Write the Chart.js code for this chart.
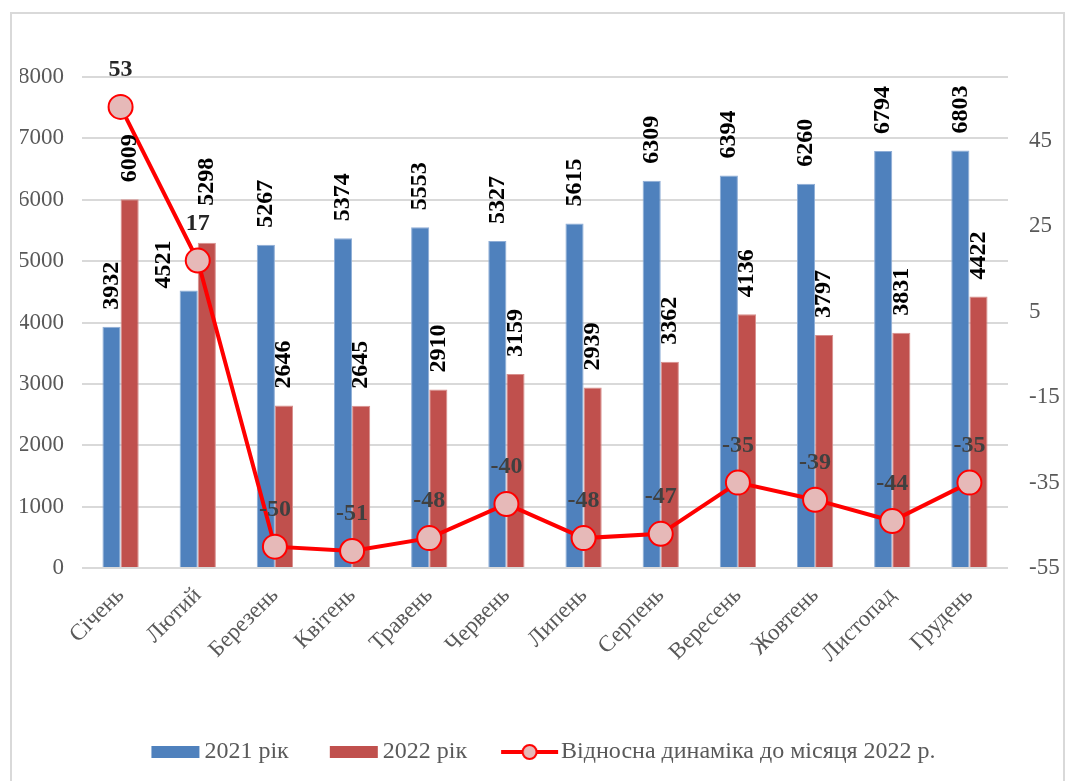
<!DOCTYPE html>
<html>
<head>
<meta charset="utf-8">
<script src="https://cdn.jsdelivr.net/npm/chart.js@4/dist/chart.umd.min.js"></script>
<style>
html, body { margin: 0; padding: 0; background: #fff; }
#frame { position: absolute; left: 10px; top: 12px; width: 1055px; height: 800px; border: 2px solid #d9d9d9; box-sizing: border-box; }
#wrap { position: absolute; left: 0; top: 0; width: 1066px; height: 781px; }
</style>
</head>
<body>
<div id="frame"></div>
<div id="wrap"><canvas id="chart"></canvas></div>
<script>
const months = ['Січень', 'Лютий', 'Березень', 'Квітень', 'Травень', 'Червень', 'Липень', 'Серпень', 'Вересень', 'Жовтень', 'Листопад', 'Грудень'];
const values2021 = [3932, 4521, 5267, 5374, 5553, 5327, 5615, 6309, 6394, 6260, 6794, 6803];
const values2022 = [6009, 5298, 2646, 2645, 2910, 3159, 2939, 3362, 4136, 3797, 3831, 4422];
const dynamics = [53, 17, -50, -51, -48, -40, -48, -47, -35, -39, -44, -35];
const leftTicks = [0, 1000, 2000, 3000, 4000, 5000, 6000, 7000, 8000];
const rightTicks = [-55, -35, -15, 5, 25, 45];

const SERIF = '"Liberation Serif", "Times New Roman", serif';
const GREY = '#595959';

//legend icons (drawn once, used as pointStyle); drawn off-centre in a wider canvas
//so the gap to the text gets close to the original one
function boxIcon(color) {
	let c = document.createElement('canvas');
	c.width = 60; c.height = 12;
	let g = c.getContext('2d');
	g.fillStyle = color;
	g.fillRect(10, 0, 48, 12);
	return c;
}
function lineIcon() {
	let c = document.createElement('canvas');
	c.width = 66; c.height = 20;
	let g = c.getContext('2d');
	g.strokeStyle = '#ff0000';
	g.lineWidth = 4;
	g.beginPath(); g.moveTo(6, 10); g.lineTo(63, 10); g.stroke();
	g.beginPath(); g.arc(34.5, 10, 7, 0, Math.PI * 2);
	g.fillStyle = '#e6b9b8'; g.fill();
	g.lineWidth = 2; g.stroke();
	return c;
}
const legendIcons = [boxIcon('#4f81bd'), boxIcon('#c0504d'), lineIcon()];

//labels that were moved by hand in the original
const labelMoves = {
	'0-1': {dx: -25, gap: 2},
	'1-1': {dx: 0, gap: 37}
};

const valueLabels = {
	id: 'valueLabels',
	afterDatasetsDraw(chart) {
		const ctx = chart.ctx;
		ctx.save();
		chart.data.datasets.forEach((ds, di) => {
			const meta = chart.getDatasetMeta(di);
			meta.data.forEach((el, i) => {
				const text = String(ds.data[i]);
				ctx.font = 'bold 24px ' + SERIF;
				if (ds.type == 'line') {
					ctx.fillStyle = i < 2 ? '#262626' : '#404040';
					ctx.textAlign = 'center';
					ctx.textBaseline = 'middle';
					ctx.fillText(text, el.x, el.y - 37);
				} else {
					const move = labelMoves[di + '-' + i] || {dx: 0, gap: 17};
					ctx.save();
					ctx.translate(el.x + move.dx, el.y - move.gap);
					ctx.rotate(-Math.PI / 2);
					ctx.fillStyle = '#000';
					ctx.textAlign = 'left';
					ctx.textBaseline = 'middle';
					ctx.fillText(text, 0, 0);
					ctx.restore();
				}
			});
		});
		ctx.restore();
	}
};

new Chart(document.getElementById('chart'), {
	type: 'bar',
	data: {
		labels: months,
		datasets: [
			{
				label: '2021 рік',
				data: values2021,
				backgroundColor: '#4f81bd',
				borderColor: '#8eadd6',
				borderWidth: 1,
				yAxisID: 'y',
				order: 2
			},
			{
				label: '2022 рік',
				data: values2022,
				backgroundColor: '#c0504d',
				borderColor: '#d88f8d',
				borderWidth: 1,
				yAxisID: 'y',
				order: 2
			},
			{
				type: 'line',
				label: 'Відносна динаміка до місяця 2022 р.',
				data: dynamics,
				borderColor: '#ff0000',
				borderWidth: 4,
				pointRadius: 12,
				pointBorderWidth: 2,
				pointBackgroundColor: '#e6b9b8',
				pointBorderColor: '#ff0000',
				tension: 0,
				yAxisID: 'y1',
				order: 1
			}
		]
	},
	options: {
		responsive: true,
		maintainAspectRatio: false,
		animation: false,
		categoryPercentage: 0.47,
		barPercentage: 1,
		layout: {
			padding: {top: 77, left: 20, right: 0, bottom: 7}
		},
		plugins: {
			tooltip: {enabled: false},
			legend: {
				position: 'bottom',
				labels: {
					usePointStyle: true,
					pointStyleWidth: 42,
					padding: 40,
					color: GREY,
					font: {family: SERIF, size: 24},
					generateLabels(chart) {
						return chart.data.datasets.map((ds, i) => ({
							text: ds.label,
							pointStyle: legendIcons[i],
							datasetIndex: i,
							fontColor: GREY,
							hidden: false,
							lineWidth: 0,
							strokeStyle: 'transparent',
							fillStyle: 'transparent'
						}));
					}
				}
			}
		},
		scales: {
			x: {
				grid: {display: false},
				border: {display: false},
				ticks: {
					color: GREY,
					font: {family: SERIF, size: 23},
					minRotation: 45,
					maxRotation: 45,
					padding: 6
				},
				afterFit(scale) { scale.height = 132; }
			},
			y: {
				position: 'left',
				min: 0,
				max: 8000,
				afterBuildTicks(scale) { scale.ticks = leftTicks.map(v => ({value: v})); },
				grid: {color: '#d9d9d9', lineWidth: 2, drawTicks: false},
				border: {display: false},
				ticks: {
					color: GREY,
					font: {family: SERIF, size: 23},
					padding: 18,
					callback: value => String(value)
				},
				afterFit(scale) { scale.width = 62; }
			},
			y1: {
				position: 'right',
				min: -55,
				max: 60,
				afterBuildTicks(scale) { scale.ticks = rightTicks.map(v => ({value: v})); },
				grid: {display: false, drawTicks: false},
				border: {display: false},
				ticks: {
					color: GREY,
					font: {family: SERIF, size: 23},
					padding: 21,
					callback: value => String(value)
				},
				afterFit(scale) { scale.width = 58; }
			}
		}
	},
	plugins: [valueLabels]
});
</script>
</body>
</html>
